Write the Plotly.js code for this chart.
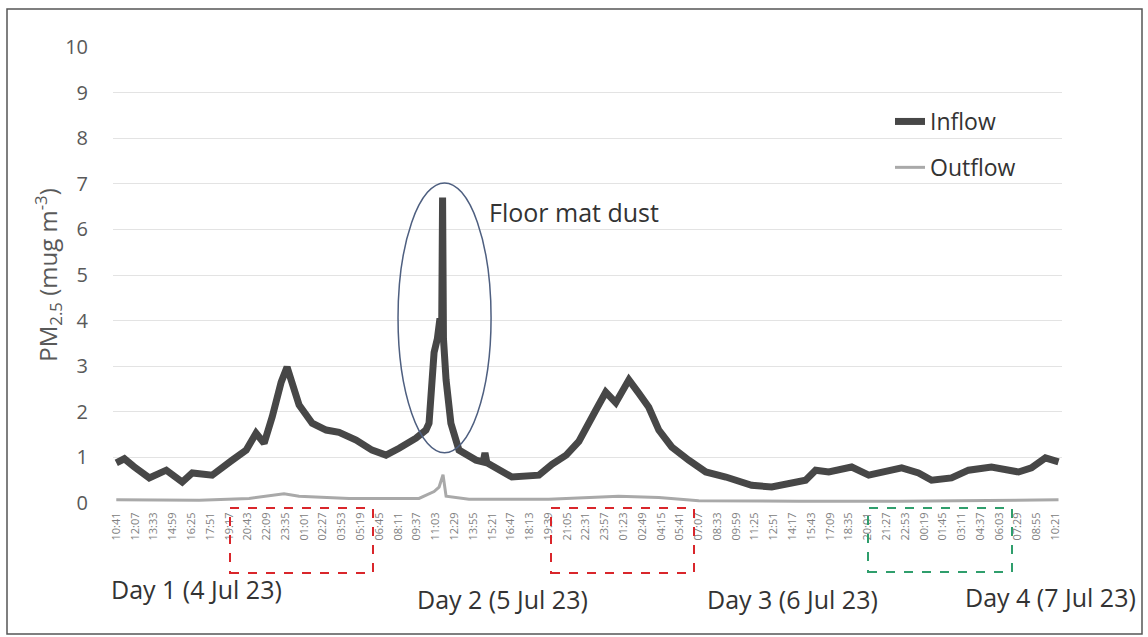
<!DOCTYPE html>
<html>
<head>
<meta charset="utf-8">
<script src="https://cdn.plot.ly/plotly-3.0.1.min.js"></script>
<style>html,body{margin:0;padding:0;background:#fff;}#chart{width:1148px;height:637px;}</style>
</head>
<body>
<div id="chart"></div>
<script>
// Tick labels (every 86 min starting 10:41, 4 Jul 23)
const tickLabels = ["10:41","12:07","13:33","14:59","16:25","17:51","19:17","20:43","22:09","23:35","01:01","02:27","03:53","05:19","06:45","08:11","09:37","11:03","12:29","13:55","15:21","16:47","18:13","19:39","21:05","22:31","23:57","01:23","02:49","04:15","05:41","07:07","08:33","09:59","11:25","12:51","14:17","15:43","17:09","18:35","20:01","21:27","22:53","00:19","01:45","03:11","04:37","06:03","07:29","08:55","10:21"];
const tickStepMin = 86;

// Inflow: elapsed minutes since 10:41 on 4 Jul 23, PM2.5 values
const inflowMin = [0,37,80,151,229,302,348,439,531,595,640,677,714,755,782,805,837,897,961,1020,1098,1171,1235,1295,1372,1418,1432,1455,1470,1482,1490,1494,1498,1510,1532,1569,1647,1680,1688,1697,1811,1935,1995,2060,2118,2196,2241,2287,2347,2392,2438,2484,2543,2621,2699,2791,2909,3001,3092,3156,3202,3262,3367,3445,3596,3673,3733,3824,3902,4007,4131,4190,4254,4314];
const inflowVal = [0.88,0.97,0.8,0.55,0.72,0.46,0.66,0.61,0.94,1.16,1.53,1.31,1.89,2.65,2.98,2.63,2.15,1.75,1.6,1.55,1.38,1.16,1.05,1.2,1.42,1.6,1.75,3.3,3.6,4.05,3.9,6.7,3.6,2.7,1.75,1.16,0.94,0.9,1.1,0.88,0.57,0.61,0.85,1.05,1.35,2.04,2.43,2.2,2.7,2.41,2.1,1.6,1.23,0.94,0.68,0.57,0.39,0.35,0.46,0.5,0.72,0.68,0.79,0.61,0.77,0.66,0.5,0.55,0.72,0.79,0.68,0.77,0.99,0.9];

// Outflow
const outflowMin = [0,380,608,768,837,1066,1386,1455,1478,1496,1510,1615,1980,2300,2484,2667,3125,3583,4314];
const outflowVal = [0.07,0.06,0.1,0.2,0.15,0.1,0.1,0.25,0.35,0.62,0.15,0.08,0.08,0.15,0.12,0.05,0.04,0.04,0.07];

const dayLabels = ["Day 1 (4 Jul 23)","Day 2 (5 Jul 23)","Day 3 (6 Jul 23)","Day 4 (7 Jul 23)"];

const FONT = "Open Sans, Noto Sans, sans-serif";
const tickVals = tickLabels.map((_, i) => i * tickStepMin);

const traces = [
  {x: inflowMin, y: inflowVal, type: "scatter", mode: "lines", name: "Inflow",
   line: {color: "#474747", width: 7}, legendgroup: "a"},
  {x: outflowMin, y: outflowVal, type: "scatter", mode: "lines", name: "Outflow",
   line: {color: "#a9a9a9", width: 3}, legendgroup: "b"}
];

// pixel helpers for paper coords (plot area 113..1062 x, 47..503 y)
const px = v => (v - 113) / 949;
const py = v => (503 - v) / 456;

const dayPos = [[196, 589], [502, 599], [792, 599], [1050, 597]];

const layout = {
  width: 1148, height: 637,
  margin: {l: 113, r: 86, t: 47, b: 134},
  paper_bgcolor: "#fff", plot_bgcolor: "#fff",
  font: {family: FONT, color: "#595959"},
  showlegend: true,
  legend: {x: px(890), y: py(100), xanchor: "left", yanchor: "top",
    font: {family: FONT, size: 23, color: "#333"}, traceorder: "grouped", tracegroupgap: 13,
    bgcolor: "rgba(0,0,0,0)"},
  xaxis: {range: [-15, 4330], tickmode: "array", tickvals: tickVals, ticktext: tickLabels,
    tickangle: -90, tickfont: {size: 11, color: "#808080", family: FONT},
    showgrid: false, zeroline: false, showline: false, ticks: "outside", ticklen: 4, tickcolor: "rgba(0,0,0,0)"},
  yaxis: {range: [0, 10], dtick: 1, tick0: 0, showgrid: true, gridcolor: "#e3e3e3", gridwidth: 1,
    zeroline: false, showline: false, ticks: "outside", ticklen: 20, tickcolor: "rgba(0,0,0,0)",
    tickfont: {size: 20, color: "#595959", family: FONT},
    title: {text: "PM<sub>2.5</sub> (mug m<sup>-3</sup>)", font: {size: 24, color: "#595959", family: FONT}, standoff: 0}},
  shapes: [
    {type: "circle", xref: "x", yref: "y", x0: 1290, x1: 1716, y0: 1.10, y1: 7.02,
     line: {color: "#4e5f80", width: 1.5}},
    {type: "rect", xref: "paper", yref: "paper", x0: px(230), x1: px(373), y0: py(573), y1: py(508),
     line: {color: "#d9262b", width: 2, dash: "dash"}},
    {type: "rect", xref: "paper", yref: "paper", x0: px(551), x1: px(694), y0: py(573), y1: py(508),
     line: {color: "#d9262b", width: 2, dash: "dash"}},
    {type: "rect", xref: "paper", yref: "paper", x0: px(868), x1: px(1012), y0: py(572), y1: py(508),
     line: {color: "#2f9e6c", width: 2, dash: "dash"}},
    {type: "rect", xref: "paper", yref: "paper", x0: px(7), x1: px(1142), y0: py(634), y1: py(9),
     line: {color: "#555", width: 1.5}}
  ],
  annotations: [
    {xref: "x", yref: "y", x: 1697, y: 6.38, text: "Floor mat dust", showarrow: false,
     xanchor: "left", yanchor: "middle", font: {family: FONT, size: 25, color: "#333"}}
  ].concat(dayLabels.map((t, i) => ({
    xref: "paper", yref: "paper", x: px(dayPos[i][0]), y: py(dayPos[i][1]), text: t,
    showarrow: false, xanchor: "center", yanchor: "middle",
    font: {family: FONT, size: 25, color: "#333"}
  })))
};

Plotly.newPlot("chart", traces, layout, {staticPlot: true, displayModeBar: false});
</script>
</body>
</html>
